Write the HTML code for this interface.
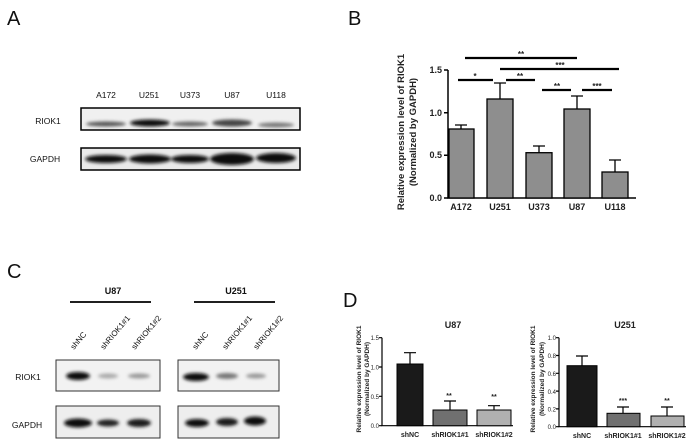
<!DOCTYPE html>
<html><head><meta charset="utf-8"><style>
html,body{margin:0;padding:0;background:#fff;}
svg{display:block;font-family:"Liberation Sans",Arial,sans-serif;}
</style></head><body>
<svg width="695" height="448" viewBox="0 0 695 448" xmlns="http://www.w3.org/2000/svg">
<defs>
<filter id="bl" x="-20%" y="-100%" width="140%" height="300%"><feGaussianBlur stdDeviation="1.6"/></filter>
</defs>
<g font-size="20" fill="#111">
<text x="7" y="25">A</text><text x="348" y="25">B</text><text x="7" y="278">C</text><text x="343" y="307">D</text>
</g>
<!-- Panel A -->
<g font-size="8.5" fill="#111" text-anchor="middle">
<text x="106" y="98">A172</text><text x="149" y="98">U251</text><text x="190" y="98">U373</text><text x="232" y="98">U87</text><text x="276" y="98">U118</text>
<text x="48" y="124">RIOK1</text><text x="45" y="162">GAPDH</text>
</g>
<rect x="81" y="108" width="219" height="22" fill="#f0f0f0" stroke="#000" stroke-width="1.5"/>
<g filter="url(#bl)" fill="#333">
<ellipse cx="106" cy="124" rx="20" ry="2.5" fill="#555"/>
<ellipse cx="150" cy="123" rx="20" ry="3.5" fill="#111"/>
<ellipse cx="190" cy="124" rx="18" ry="2.5" fill="#666"/>
<ellipse cx="232" cy="123" rx="20" ry="3.5" fill="#444"/>
<ellipse cx="276" cy="125" rx="18" ry="2.5" fill="#777"/>
</g>
<rect x="81" y="148" width="219" height="22" fill="#eaeaea" stroke="#000" stroke-width="1.5"/>
<g filter="url(#bl)" fill="#111">
<ellipse cx="106" cy="159" rx="21" ry="4"/><ellipse cx="150" cy="159" rx="21" ry="4.5"/><ellipse cx="190" cy="159" rx="19" ry="4"/><ellipse cx="232" cy="159" rx="22" ry="6"/><ellipse cx="276" cy="158" rx="20" ry="5"/>
</g>
<!-- Panel B -->
<g stroke="#000" stroke-width="1.5" fill="none">
<path d="M448 70 V198 H636"/>
<path d="M444 70 H448 M444 112.7 H448 M444 155.3 H448 M444 198 H448"/>
</g>
<g font-size="9" font-weight="bold" fill="#222" text-anchor="end">
<text x="442" y="73">1.5</text><text x="442" y="116">1.0</text><text x="442" y="158">0.5</text><text x="442" y="201">0.0</text>
</g>
<g font-size="9" font-weight="bold" fill="#222" text-anchor="middle">
<text x="461" y="210">A172</text><text x="500" y="210">U251</text><text x="539" y="210">U373</text><text x="577" y="210">U87</text><text x="615" y="210">U118</text>
</g>
<g font-size="9.5" font-weight="bold" fill="#222" text-anchor="middle">
<text transform="translate(404,132) rotate(-90)">Relative expression level of RIOK1</text>
<text transform="translate(416,132) rotate(-90)">(Normalized by GAPDH)</text>
</g>
<g fill="#8e8e8e" stroke="#000" stroke-width="1.3">
<rect x="449" y="129" width="25" height="69"/>
<rect x="487" y="99" width="26" height="99"/>
<rect x="526" y="152.7" width="26" height="45.3"/>
<rect x="564" y="109" width="26" height="89"/>
<rect x="602" y="172" width="26" height="26"/>
</g>
<g stroke="#000" stroke-width="1.3" fill="none">
<path d="M461 129 V125 M455 125 H467"/>
<path d="M500 99 V83 M494 83 H506"/>
<path d="M539 152.7 V146 M533 146 H545"/>
<path d="M577 109 V96 M571 96 H583"/>
<path d="M615 172 V160 M609 160 H621"/>
</g>
<g stroke="#000" stroke-width="2.2">
<path d="M465 58 H577 M500 69 H619 M458 80 H493 M506 80 H535 M542 90 H571 M582 90 H612"/>
</g>
<g font-size="8" font-weight="bold" fill="#222" text-anchor="middle">
<text x="521" y="57">**</text><text x="560" y="68">***</text><text x="475" y="79">*</text><text x="520" y="79">**</text><text x="557" y="89">**</text><text x="597" y="89">***</text>
</g>
<!-- Panel C -->
<g font-size="9" font-weight="bold" fill="#111" text-anchor="middle">
<text x="113" y="294">U87</text><text x="236" y="294">U251</text>
</g>
<path d="M70 302 H151 M194 302 H275" stroke="#000" stroke-width="1.8"/>
<g font-size="8" fill="#111">
<text transform="translate(74,350) rotate(-50)">shNC</text>
<text transform="translate(104,350) rotate(-50)">shRIOK1#1</text>
<text transform="translate(135,350) rotate(-50)">shRIOK1#2</text>
<text transform="translate(196,350) rotate(-50)">shNC</text>
<text transform="translate(226,350) rotate(-50)">shRIOK1#1</text>
<text transform="translate(257,350) rotate(-50)">shRIOK1#2</text>
</g>
<g font-size="8.5" fill="#111" text-anchor="middle">
<text x="28" y="380">RIOK1</text><text x="27" y="428">GAPDH</text>
</g>
<rect x="56" y="360" width="104" height="31" fill="#f2f2f2" stroke="#333" stroke-width="1"/>
<rect x="178" y="360" width="101" height="31" fill="#f2f2f2" stroke="#333" stroke-width="1"/>
<rect x="56" y="406" width="104" height="32" fill="#eeeeee" stroke="#333" stroke-width="1"/>
<rect x="178" y="406" width="101" height="32" fill="#eeeeee" stroke="#333" stroke-width="1"/>
<g filter="url(#bl)">
<ellipse cx="78" cy="376" rx="12" ry="4" fill="#111"/>
<ellipse cx="108" cy="376" rx="10" ry="2.5" fill="#aaa"/>
<ellipse cx="139" cy="376" rx="11" ry="2.5" fill="#999"/>
<ellipse cx="196" cy="377" rx="13" ry="4" fill="#111"/>
<ellipse cx="227" cy="376" rx="11" ry="3" fill="#777"/>
<ellipse cx="256" cy="376" rx="10" ry="2.5" fill="#999"/>
<ellipse cx="78" cy="423" rx="14" ry="4.5" fill="#111"/>
<ellipse cx="108" cy="423" rx="11" ry="3.5" fill="#222"/>
<ellipse cx="139" cy="423" rx="12" ry="4" fill="#1a1a1a"/>
<ellipse cx="197" cy="423" rx="12" ry="4" fill="#111"/>
<ellipse cx="227" cy="422" rx="11" ry="4" fill="#1a1a1a"/>
<ellipse cx="255" cy="421" rx="11" ry="4.5" fill="#111"/>
</g>
<!-- Panel D U87 -->
<text x="453" y="328" font-size="9" font-weight="bold" fill="#222" text-anchor="middle">U87</text>
<g stroke="#000" stroke-width="1.2" fill="none">
<path d="M382 337.7 V425.7 H513"/>
<path d="M379 337.7 H382 M379 367 H382 M379 396.3 H382 M379 425.7 H382"/>
</g>
<g font-size="6" fill="#222" text-anchor="end">
<text x="379" y="340">1.5</text><text x="379" y="369.5">1.0</text><text x="379" y="399">0.5</text><text x="379" y="428">0.0</text>
</g>
<g font-size="6.5" font-weight="bold" fill="#222" text-anchor="middle">
<text transform="translate(361,379) rotate(-90)">Relative expression level of RIOK1</text>
<text transform="translate(369,379) rotate(-90)">(Normalized by GAPDH)</text>
</g>
<rect x="397" y="364" width="26" height="61.7" fill="#1a1a1a" stroke="#000"/>
<rect x="433" y="410" width="34" height="15.7" fill="#707070" stroke="#000"/>
<rect x="477" y="410" width="34" height="15.7" fill="#b0b0b0" stroke="#000"/>
<g stroke="#000" stroke-width="1.2"><path d="M410 364 V352.7 M404 352.7 H416 M450 410 V401 M444 401 H456 M494 410 V405.7 M488 405.7 H500"/></g>
<g font-size="7" font-weight="bold" fill="#222" text-anchor="middle">
<text x="449" y="398">**</text><text x="494" y="399">**</text>
<text x="410" y="437">shNC</text><text x="450" y="437">shRIOK1#1</text><text x="494" y="437">shRIOK1#2</text>
</g>
<!-- Panel D U251 -->
<text x="625" y="328" font-size="9" font-weight="bold" fill="#222" text-anchor="middle">U251</text>
<g stroke="#000" stroke-width="1.2" fill="none">
<path d="M559 337.7 V426.7 H686"/>
<path d="M556 337.7 H559 M556 355.5 H559 M556 373.3 H559 M556 391.1 H559 M556 408.9 H559 M556 426.7 H559"/>
</g>
<g font-size="6" fill="#222" text-anchor="end">
<text x="556" y="340">1.0</text><text x="556" y="358">0.8</text><text x="556" y="376">0.6</text><text x="556" y="394">0.4</text><text x="556" y="411.5">0.2</text><text x="556" y="429">0.0</text>
</g>
<g font-size="6.5" font-weight="bold" fill="#222" text-anchor="middle">
<text transform="translate(535,379) rotate(-90)">Relative expression level of RIOK1</text>
<text transform="translate(544,379) rotate(-90)">(Normalized by GAPDH)</text>
</g>
<rect x="567" y="365.7" width="30" height="61" fill="#1a1a1a" stroke="#000"/>
<rect x="607" y="413.3" width="33" height="13.4" fill="#707070" stroke="#000"/>
<rect x="651" y="416" width="33" height="10.7" fill="#b0b0b0" stroke="#000"/>
<g stroke="#000" stroke-width="1.2"><path d="M582 365.7 V356 M576 356 H588 M623 413.3 V407 M617 407 H629 M667 416 V407 M661 407 H673"/></g>
<g font-size="7" font-weight="bold" fill="#222" text-anchor="middle">
<text x="623" y="403">***</text><text x="667" y="403">**</text>
<text x="582" y="438">shNC</text><text x="623" y="438">shRIOK1#1</text><text x="667" y="438">shRIOK1#2</text>
</g>
</svg>
</body></html>
